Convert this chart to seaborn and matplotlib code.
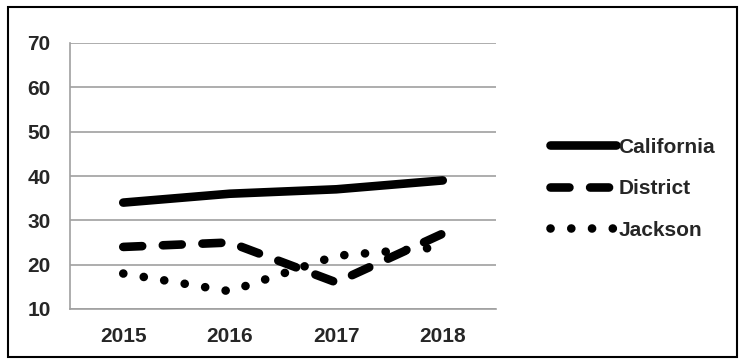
import matplotlib
matplotlib.use("Agg")
import matplotlib.pyplot as plt
import seaborn as sns
import pandas as pd
from matplotlib.patches import Rectangle

years = ["2015", "2016", "2017", "2018"]
california = [34, 36, 37, 39]
district = [24, 25, 16, 27]
jackson = [18, 14, 22, 24]
series_names = ["California", "District", "Jackson"]
y_ticks = [10, 20, 30, 40, 50, 60, 70]

sns.set_theme(style="white")
plt.rcParams['font.family'] = ['Liberation Sans', 'DejaVu Sans']
plt.rcParams['font.weight'] = 'bold'

df = pd.DataFrame({
    "year": years * 3,
    "pos": list(range(len(years))) * 3,
    "value": california + district + jackson,
    "series": [s for s in series_names for _ in years],
})

fig = plt.figure(figsize=(7.44, 3.63), dpi=100)
ax = fig.add_axes([70/744, 1 - 309/363, (496-70)/744, (309-43)/363])

dash_styles = {
    "California": None,
    "District": (0, (2.2, 2.4)),
    "Jackson": (0, (0.01, 2.4)),
}
for name in series_names:
    sub = df[df["series"] == name]
    sns.lineplot(data=sub, x="pos", y="value", ax=ax, color="black",
                 linewidth=6.2, label=name, legend=False)
    ln = ax.lines[-1]
    ls = dash_styles[name]
    if ls is not None:
        ln.set_linestyle(ls)
    ln.set_dash_capstyle("round")
    ln.set_solid_capstyle("round")
    ln.set_solid_joinstyle("round")
    ln.set_dash_joinstyle("round")

fs = 15
ax.set_xlim(-0.5, len(years) - 0.5)
ax.set_ylim(10, 70)
ax.set_yticks(y_ticks)
ax.set_yticklabels([str(v) for v in y_ticks], fontsize=fs, fontweight="bold")
ax.set_xticks(range(len(years)))
ax.set_xticklabels(years, fontsize=fs, fontweight="bold")
ax.set_xticks([i - 0.5 for i in range(len(years) + 1)], minor=True)
ax.tick_params(axis="x", which="major", length=0, pad=13)
ax.tick_params(axis="x", which="minor", length=4, color="#a0a0a0", width=1.2, direction="out")
ax.tick_params(axis="y", which="major", length=6, color="#a0a0a0", width=1.2, direction="out", pad=8)
ax.set_xlabel("")
ax.set_ylabel("")
ax.yaxis.grid(True, color="#a0a0a0", linewidth=1.2)
ax.xaxis.grid(False)
for side in ["top", "right"]:
    ax.spines[side].set_visible(False)
for side in ["left", "bottom"]:
    ax.spines[side].set_color("#a0a0a0")
    ax.spines[side].set_linewidth(1.2)
ax.set_axisbelow(True)

handles = ax.lines[:3]
leg = fig.legend(handles, series_names, loc="upper left",
                 bbox_to_anchor=(531/744, 1 - 119/363), frameon=False,
                 handlelength=3.2, handletextpad=0.1, labelspacing=1.08,
                 prop={"size": fs, "weight": "bold"})

fig.patches.append(Rectangle((8/744, 6/363), 729/744, 350/363, transform=fig.transFigure,
                             fill=False, edgecolor="black", linewidth=1.5))

fig.savefig("out.png", dpi=100)
